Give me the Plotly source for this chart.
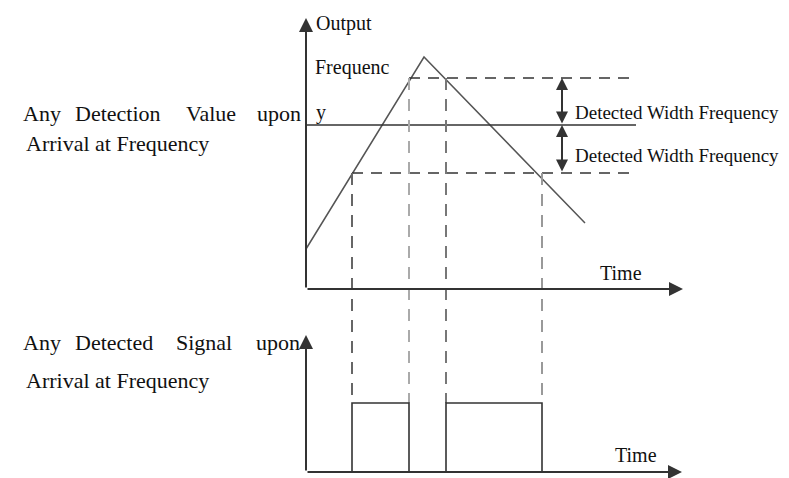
import plotly.graph_objects as go

# time / frequency values of the diagram (x: time, y: output frequency)
ramp_t = [0, 118, 279]
ramp_f = [40, 232, 66]
f_upper = 211          # detection value + width
f_set = 164            # detection value upon arrival
f_lower = 116          # detection value - width
line_end_t = 330
cross_t = [46, 103, 140, 236]
cross_f = [f_lower, f_upper, f_upper, f_lower]
cross_colors = ['#666666', '#aaaaaa', '#777777', '#999999']

# detected signal (0 = off, 1 = on)
sig_t = [46, 46, 103, 103, None, 140, 140, 236, 236]
sig_level = [0, 1, 1, 0, None, 0, 1, 1, 0]
sig_base = -183
sig_high = -114

axis_top_tip = 271
axis_x_tip = 377
axis_bot_tip = -46

FONT = "Liberation Serif"

fig = go.Figure()

# output frequency ramp
fig.add_trace(go.Scatter(x=ramp_t, y=ramp_f, mode='lines',
                         line=dict(color='#555555', width=1.5)))

# detection lines
fig.add_trace(go.Scatter(x=[0, line_end_t], y=[f_set, f_set], mode='lines',
                         line=dict(color='#333333', width=1.6)))
fig.add_trace(go.Scatter(x=[cross_t[1], line_end_t], y=[f_upper, f_upper], mode='lines',
                         line=dict(color='#333333', width=1.6, dash='11px,8px')))
fig.add_trace(go.Scatter(x=[cross_t[0], line_end_t], y=[f_lower, f_lower], mode='lines',
                         line=dict(color='#333333', width=1.6, dash='11px,8px')))

# vertical dashed guides
for t, f, c in zip(cross_t, cross_f, cross_colors):
    fig.add_trace(go.Scatter(x=[t, t], y=[f, sig_high], mode='lines',
                             line=dict(color=c, width=2, dash='12px,9px')))

# detected signal pulses
sig_y = [None if v is None else sig_base + v * (sig_high - sig_base) for v in sig_level]
fig.add_trace(go.Scatter(x=sig_t, y=sig_y, mode='lines',
                         line=dict(color='#333333', width=1.6)))

def arrow(x0, y0, x1, y1, side='end', size=1.4):
    fig.add_annotation(x=x1, y=y1, ax=x0, ay=y0, xref='x', yref='y',
                       axref='x', ayref='y', text='', showarrow=True,
                       arrowhead=2, arrowsize=size, arrowwidth=2,
                       arrowcolor='#333333', arrowside=side)

# axes
arrow(0, 0, 0, axis_top_tip)
arrow(0, 0, axis_x_tip, 0)
arrow(0, sig_base, 0, axis_bot_tip)
arrow(0, sig_base, axis_x_tip - 1, sig_base)

# width arrows
arrow(256, f_set, 256, f_upper, side='end+start', size=1.2)
arrow(256, f_lower, 256, f_set, side='end+start', size=1.2)

def label(txt, x, y, anchor='left', size=20):
    fig.add_annotation(x=x, y=y, xref='x', yref='y', text=txt, showarrow=False,
                       xanchor=anchor, yanchor='middle',
                       font=dict(family=FONT, size=size, color='#111111'))

label('Output', 8, 266)
label('Frequenc', 7, 222)
label('y', 8, 177)
label('Time', 292, 16)
label('Time', 307, -166)
label('Detected Width Frequency', 267, 177, size=19)
label('Detected Width Frequency', 267, 134, size=19)

# left-side descriptions (justified first rows)
label('Any', -285, 176, size=22)
label('Detection', -143, 176, anchor='right', size=22)
label('Value', -122, 176, size=22)
label('upon', -3, 176, anchor='right', size=22)
label('Arrival at Frequency', -282, 146, size=22)

label('Any', -285, -53, size=22)
label('Detected', -151, -53, anchor='right', size=22)
label('Signal', -132, -53, size=22)
label('upon', -4, -53, anchor='right', size=22)
label('Arrival at Frequency', -282, -91, size=22)

fig.update_layout(
    width=789, height=478,
    margin=dict(l=0, r=0, t=0, b=0),
    paper_bgcolor='white', plot_bgcolor='white',
    showlegend=False,
    xaxis=dict(range=[-306, 483], visible=False),
    yaxis=dict(range=[-189, 289], visible=False),
)

fig.write_html("out.html", config={'displayModeBar': False},
               post_script="document.body.style.margin='0';")
